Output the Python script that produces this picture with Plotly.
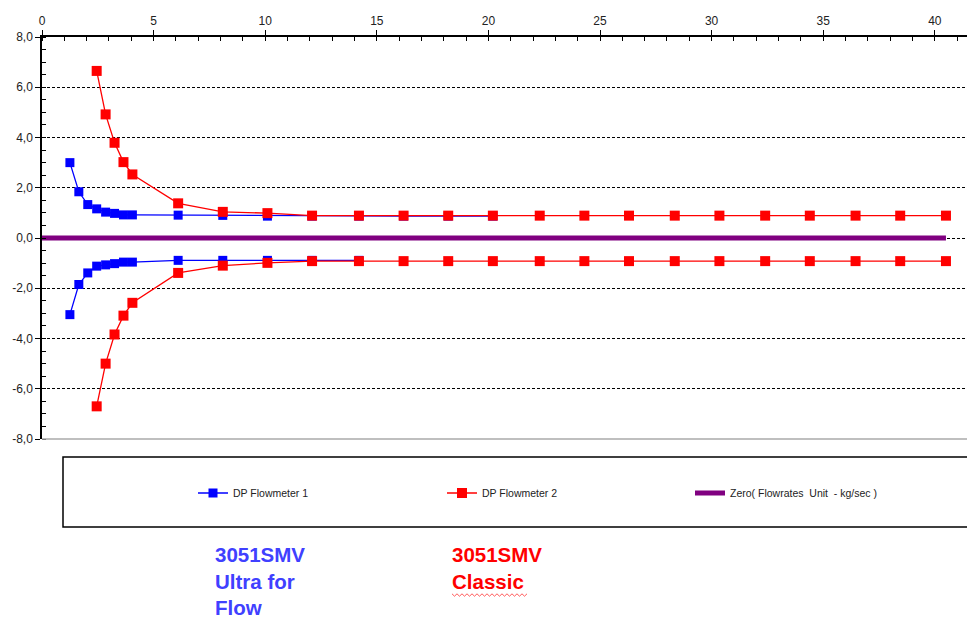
import plotly.graph_objects as go

# ---- data ----
blue_up_x = [1.25, 1.65, 2.05, 2.45, 2.85, 3.25, 3.65, 4.05, 6.1, 8.1, 10.1, 12.1, 14.2, 16.2, 18.2, 20.2]
blue_up_y = [3.0, 1.84, 1.33, 1.16, 1.03, 0.98, 0.92, 0.92, 0.91, 0.9, 0.87, 0.87, 0.87, 0.87, 0.87, 0.87]
blue_lo_x = [1.25, 1.65, 2.05, 2.45, 2.85, 3.25, 3.65, 4.05, 6.1, 8.1, 10.1, 12.1, 14.2]
blue_lo_y = [-3.05, -1.85, -1.39, -1.12, -1.07, -1.02, -0.96, -0.96, -0.89, -0.89, -0.89, -0.89, -0.89]

red_x = [2.45, 2.85, 3.25, 3.65, 4.05, 6.1, 8.1, 10.1, 12.1, 14.2, 16.2, 18.2, 20.2,
         22.3, 24.3, 26.3, 28.35, 30.35, 32.4, 34.4, 36.45, 38.45, 40.5]
red_up_y = [6.65, 4.92, 3.79, 3.02, 2.53, 1.38, 1.04, 0.99, 0.89, 0.89, 0.89, 0.89, 0.89,
            0.89, 0.89, 0.89, 0.89, 0.89, 0.89, 0.89, 0.89, 0.89, 0.89]
red_lo_y = [-6.7, -5.0, -3.84, -3.09, -2.58, -1.39, -1.1, -0.99, -0.92, -0.92, -0.92, -0.92, -0.92,
            -0.92, -0.92, -0.92, -0.92, -0.92, -0.92, -0.92, -0.92, -0.92, -0.92]

zero_x = [0, 40.5]
zero_y = [0, 0]

y_tickvals = [-8, -6, -4, -2, 0, 2, 4, 6, 8]
y_ticktext = ["-8,0", "-6,0", "-4,0", "-2,0", "0,0", "2,0", "4,0", "6,0", "8,0"]
x_tickvals = [0, 5, 10, 15, 20, 25, 30, 35, 40]

BLUE = "#0000FF"
RED = "#FF0000"
PURPLE = "#800080"

fig = go.Figure()

fig.add_trace(go.Scatter(x=zero_x, y=zero_y, mode="lines", name="Zero( Flowrates  Unit  - kg/sec )",
                         line=dict(color=PURPLE, width=5), legend="legend3"))
fig.add_trace(go.Scatter(x=blue_up_x, y=blue_up_y, mode="lines+markers", name="DP Flowmeter 1",
                         line=dict(color=BLUE, width=1.3), marker=dict(symbol="square", size=9, color=BLUE),
                         legendgroup="b", legend="legend"))
fig.add_trace(go.Scatter(x=blue_lo_x, y=blue_lo_y, mode="lines+markers", name="DP Flowmeter 1",
                         line=dict(color=BLUE, width=1.3), marker=dict(symbol="square", size=9, color=BLUE),
                         legendgroup="b", showlegend=False))
fig.add_trace(go.Scatter(x=red_x, y=red_up_y, mode="lines+markers", name="DP Flowmeter 2",
                         line=dict(color=RED, width=1.3), marker=dict(symbol="square", size=10, color=RED),
                         legendgroup="r", legend="legend2"))
fig.add_trace(go.Scatter(x=red_x, y=red_lo_y, mode="lines+markers", name="DP Flowmeter 2",
                         line=dict(color=RED, width=1.3), marker=dict(symbol="square", size=10, color=RED),
                         legendgroup="r", showlegend=False))

# page body has an 8px margin: figure pixel = screen pixel - 8
OFF = 8
W, H = 975 - OFF, 619 - OFF
L, T, R = 42 - OFF, 37 - OFF, 0
B = H - (439 - OFF)
pw = W - L - R
ph = H - T - B

def px_x(p):
    return (p - OFF - L) / pw

def px_y(p):
    return (H - B - (p - OFF)) / ph

leg_common = dict(bgcolor="rgba(0,0,0,0)", borderwidth=0, font=dict(size=10.5, color="#222"),
                  xanchor="left", yanchor="middle", orientation="h", itemwidth=30)

# squiggle under "Classic"
sq_x0, sq_x1, sq_y = 452, 528, 595
pts = []
xx = sq_x0
k = 0
while xx <= sq_x1:
    pts.append((px_x(xx), px_y(sq_y + (1.2 if k % 2 else -1.2))))
    xx += 2.5
    k += 1
squiggle = "M " + " L ".join(f"{a:.5f},{b:.5f}" for a, b in pts)

fig.update_layout(
    width=W, height=H,
    margin=dict(l=L, r=R, t=T, b=B),
    paper_bgcolor="white", plot_bgcolor="white",
    font=dict(family="Liberation Sans, Arial, sans-serif", size=12, color="#222"),
    legend=dict(x=px_x(193), y=px_y(493), **leg_common),
    legend2=dict(x=px_x(442), y=px_y(493), **leg_common),
    legend3=dict(x=px_x(690), y=px_y(493), **leg_common),
    xaxis=dict(side="top", range=[0, (975 - 42) / 22.32], tickvals=x_tickvals,
               showline=True, linecolor="black", linewidth=1.5,
               ticks="outside", ticklen=5, tickcolor="black", tickwidth=1.2,
               minor=dict(dtick=1, ticks="inside", ticklen=4, tickcolor="black", tickwidth=1, showgrid=False),
               showgrid=False, zeroline=False, tickfont=dict(size=12, color="#222")),
    yaxis=dict(range=[-8, 8], tickvals=y_tickvals, ticktext=y_ticktext,
               showline=True, linecolor="black", linewidth=1.5,
               ticks="outside", ticklen=5, tickcolor="black", tickwidth=1.2,
               minor=dict(dtick=0.5, ticks="inside", ticklen=4, tickcolor="black", tickwidth=1, showgrid=False),
               showgrid=True, gridcolor="black", gridwidth=1, griddash="3px,2px",
               zeroline=False, tickfont=dict(size=12, color="#222")),
    shapes=[
        dict(type="line", xref="paper", yref="paper", x0=0, x1=1, y0=0, y1=0,
             line=dict(color="#AAAAAA", width=1.5), layer="above"),
        dict(type="rect", xref="paper", yref="paper", x0=px_x(63), x1=1.02, y0=px_y(527), y1=px_y(457),
             line=dict(color="black", width=1.5), layer="above"),
        dict(type="path", xref="paper", yref="paper", path=squiggle,
             line=dict(color="#FF3030", width=0.8)),
    ],
    annotations=[
        dict(xref="paper", yref="paper", x=px_x(213), y=px_y(541), xanchor="left", yanchor="top",
             text="<b>3051SMV<br>Ultra for<br>Flow</b>", showarrow=False, align="left",
             font=dict(size=20.5, color="#4040FF", family="Liberation Sans, Arial, sans-serif")),
        dict(xref="paper", yref="paper", x=px_x(450), y=px_y(541), xanchor="left", yanchor="top",
             text="<b>3051SMV<br>Classic</b>", showarrow=False, align="left",
             font=dict(size=20.5, color="#FF0000", family="Liberation Sans, Arial, sans-serif")),
    ],
)

fig.write_html("out.html")
